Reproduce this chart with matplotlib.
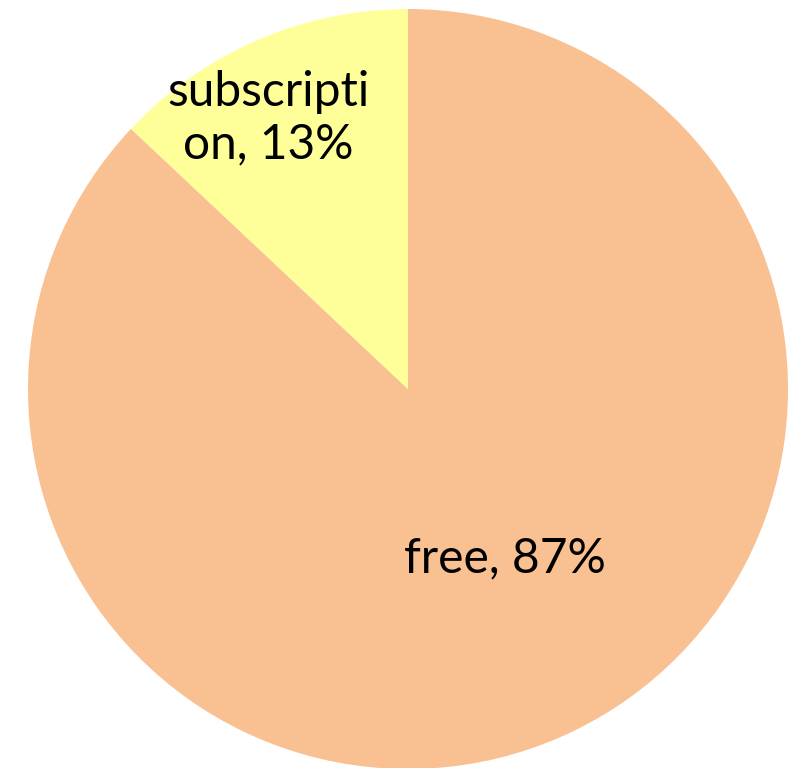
import matplotlib
matplotlib.use("Agg")
import matplotlib.pyplot as plt
import numpy as np

categories = ["free", "subscription"]
values = [87, 13]
label_texts = ["free, 87%", "subscripti\non, 13%"]
colors = ["#F9C091", "#FFFF99"]

W, H, DPI = 792, 768, 100
fig = plt.figure(figsize=(W / DPI, H / DPI), dpi=DPI)
ax = fig.add_axes([0, 0, 1, 1])
R = 380.0
cx, cy = 408.0, 389.0

wedges, _ = ax.pie(values, colors=colors, startangle=90, counterclock=False,
                   radius=1.0, center=(0, 0), frame=True,
                   wedgeprops=dict(linewidth=0))
ax.set_xlim(-cx / R, (W - cx) / R)
ax.set_ylim(-(H - cy) / R, cy / R)
ax.set_aspect("equal")
ax.axis("off")

# label anchor positions (in pie radius units)
label_pos = [(0.255, -0.445), (-0.368, 0.712)]
for txt, (lx, ly) in zip(label_texts, label_pos):
    ax.text(lx, ly, txt, ha="center", va="center",
            fontsize=34.5, family="Lato", linespacing=1.22, color="black")

fig.savefig("out.png", dpi=DPI)
